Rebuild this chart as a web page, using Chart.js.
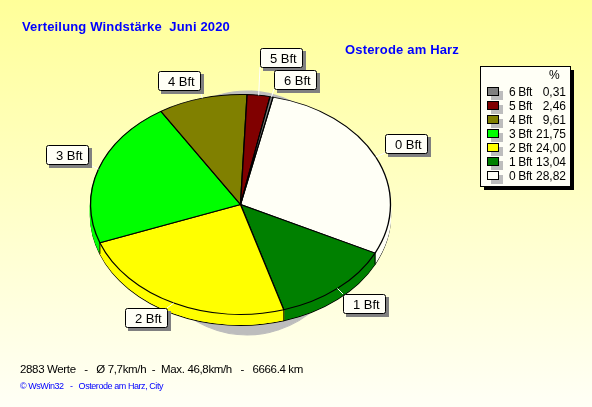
<!DOCTYPE html>
<html>
<head>
<meta charset="utf-8">
<title>Verteilung Windstärke Juni 2020</title>
<script src="https://cdn.jsdelivr.net/npm/chart.js@4"></script>
<style>
    html, body { margin: 0; padding: 0; background: #ffffe8; overflow: hidden; }
    canvas { display: block; }
</style>
</head>
<body>
<canvas id="wind" width="592" height="407"></canvas>
<script>
const categories = ['0 Bft', '1 Bft', '2 Bft', '3 Bft', '4 Bft', '5 Bft', '6 Bft'];
const shares = [28.82, 13.04, 24.00, 21.75, 9.61, 2.46, 0.31];
const colors = ['#fffff6', '#008000', '#ffff00', '#00ff00', '#808000', '#800000', '#808080'];

const titleText = 'Verteilung Windstärke  Juni 2020';
const stationText = 'Osterode am Harz';
const statsText = '2883 Werte   -   Ø 7,7km/h  -  Max. 46,8km/h   -   6666.4 km';
const creditText = '© WsWin32   -   Osterode am Harz, City';

// pie is a circle for chart.js, squashed to an ellipse in the plugin below
const RADIUS = 130;
const pie = { x: 240.5, y: 204.5, rx: 150, ry: 110, depth: 11 };
const shadow = { x: 247, y: 213, rx: 110, ry: 122 };

const boxes = {
    '0 Bft': [385, 134], '1 Bft': [343, 294], '2 Bft': [125, 308], '3 Bft': [46, 145],
    '4 Bft': [158, 71], '5 Bft': [260, 48], '6 Bft': [274, 70]
};

function squash(ctx, arc, e, dy) {
    ctx.translate(e.x, e.y + (dy || 0));
    ctx.scale(e.rx / RADIUS, e.ry / RADIUS);
    ctx.translate(-arc.x, -arc.y);
}

function drawAs(ctx, arc, fill, stroke) {
    const opts = Object.create(arc.options);
    opts.backgroundColor = fill;
    opts.borderColor = stroke;
    const old = arc.options;
    arc.options = opts;
    arc.draw(ctx);
    arc.options = old;
}

function putText(ctx, str, x, y, font, color, width, align) {
    ctx.font = font;
    ctx.fillStyle = color;
    ctx.textAlign = align || 'left';
    ctx.textBaseline = 'alphabetic';
    ctx.letterSpacing = '0px';
    if (width) {
        const gap = (width - ctx.measureText(str).width) / str.length;
        ctx.letterSpacing = gap + 'px';
    }
    ctx.fillText(str, x, y);
    ctx.letterSpacing = '0px';
}

const piePlugin = {
    id: 'pie3d',
    beforeDraw(chart) {
        const ctx = chart.ctx;
        const g = ctx.createLinearGradient(0, 0, 0, chart.height);
        g.addColorStop(0, '#ffff99');
        g.addColorStop(1, '#fffff6');
        ctx.fillStyle = g;
        ctx.fillRect(0, 0, chart.width, chart.height);
    },
    beforeDatasetsDraw(chart) {
        const ctx = chart.ctx;
        const arcs = chart.getDatasetMeta(0).data;

        ctx.save();
        squash(ctx, arcs[0], shadow);
        arcs.forEach(a => drawAs(ctx, a, '#bdbdbd', '#bdbdbd'));
        ctx.restore();

        // rim: same slices stacked downwards, only the lowest one keeps its black edge
        for (let d = pie.depth; d >= 1; d--) {
            ctx.save();
            squash(ctx, arcs[0], pie, d);
            arcs.forEach((a, i) => drawAs(ctx, a, colors[i], d === pie.depth ? '#000' : colors[i]));
            ctx.restore();
        }

        ctx.strokeStyle = '#000';
        ctx.lineWidth = 1;
        arcs.forEach(a => {
            if (Math.sin(a.startAngle) <= 0) return;
            const x = pie.x + pie.rx * Math.cos(a.startAngle);
            const y = pie.y + pie.ry * Math.sin(a.startAngle);
            ctx.beginPath();
            ctx.moveTo(x, y);
            ctx.lineTo(x, y + pie.depth);
            ctx.stroke();
        });

        ctx.save();
        squash(ctx, arcs[0], pie);
    },
    afterDatasetsDraw(chart) {
        const ctx = chart.ctx;
        const arcs = chart.getDatasetMeta(0).data;
        ctx.restore();

        // callouts
        categories.forEach((name, i) => {
            const [bx, by] = boxes[name];
            const mid = (arcs[i].startAngle + arcs[i].endAngle) / 2;
            const px = pie.x + pie.rx * Math.cos(mid);
            const py = pie.y + pie.ry * Math.sin(mid);
            ctx.strokeStyle = '#ffffff';
            ctx.lineWidth = 1;
            ctx.beginPath();
            ctx.moveTo(px, py);
            ctx.lineTo(Math.min(Math.max(px, bx), bx + 42), Math.min(Math.max(py, by), by + 19));
            ctx.stroke();
        });
        categories.forEach(name => {
            const [bx, by] = boxes[name];
            ctx.fillStyle = '#808080';
            ctx.fillRect(bx + 3, by + 3, 43, 20);
            ctx.beginPath();
            ctx.roundRect(bx + 0.5, by + 0.5, 42, 19, 2);
            ctx.fillStyle = '#fffff6';
            ctx.fill();
            ctx.strokeStyle = '#000';
            ctx.stroke();
            putText(ctx, name, bx + 10, by + 15, '13px "Liberation Sans"', '#000');
        });

        // legend, highest class on top
        ctx.fillStyle = '#000';
        ctx.fillRect(484, 70, 90, 120);
        ctx.fillStyle = '#fffff6';
        ctx.fillRect(480.5, 66.5, 90, 120);
        ctx.strokeStyle = '#000';
        ctx.strokeRect(480.5, 66.5, 90, 120);
        putText(ctx, '%', 549, 79, '12px "Liberation Sans"', '#000');
        for (let i = categories.length - 1, row = 0; i >= 0; i--, row++) {
            const y = 87 + row * 14;
            ctx.fillStyle = '#bdbdbd';
            ctx.fillRect(491, y + 4, 12, 9);
            ctx.fillStyle = colors[i];
            ctx.fillRect(487.5, y + 0.5, 11, 8);
            ctx.strokeStyle = '#000';
            ctx.strokeRect(487.5, y + 0.5, 11, 8);
            putText(ctx, categories[i], 509, y + 9, '12px "Liberation Sans"', '#000', 23);
            putText(ctx, shares[i].toFixed(2).replace('.', ','), 566, y + 9, '12px "Liberation Sans"', '#000', 0, 'right');
        }

        putText(ctx, titleText, 22, 31, 'bold 13px "Liberation Sans"', '#0000ff', 208);
        putText(ctx, stationText, 345, 54, 'bold 13px "Liberation Sans"', '#0000ff', 114);
        putText(ctx, statsText, 20, 373, '11.5px "Liberation Sans"', '#000', 283);
        putText(ctx, creditText, 20, 389, '9px "Liberation Sans"', '#0000ff', 143);
    }
};

new Chart(document.getElementById('wind'), {
    type: 'pie',
    data: {
        labels: categories,
        datasets: [{
            data: shares,
            backgroundColor: colors,
            borderColor: '#000000',
            borderWidth: 1.15,
            clip: false
        }]
    },
    options: {
        responsive: false,
        animation: false,
        rotation: 12.5,
        radius: RADIUS,
        plugins: {
            legend: { display: false },
            tooltip: { enabled: false },
            title: { display: false }
        }
    },
    plugins: [piePlugin]
});
</script>
</body>
</html>
